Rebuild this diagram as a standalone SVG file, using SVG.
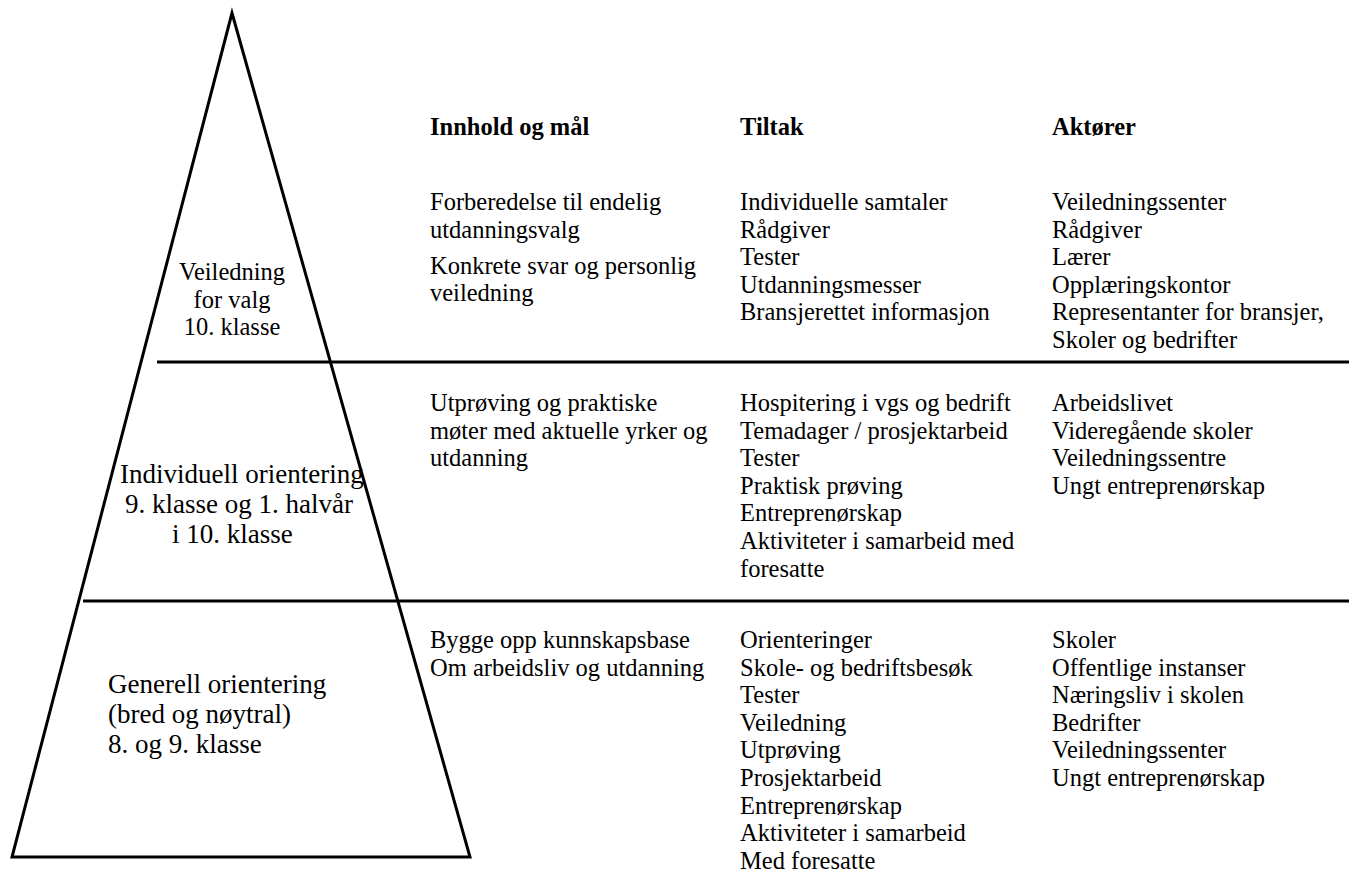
<svg xmlns="http://www.w3.org/2000/svg" width="1353" height="877" viewBox="0 0 1353 877">
<style>
text{font-family:"Liberation Serif","Times New Roman",serif;font-size:24.5px;fill:#000}
.h{font-weight:bold}
.c{text-anchor:middle}
.big{font-size:27px}
.ln{stroke:#000;stroke-width:3;fill:none}
</style>
<rect width="1353" height="877" fill="#fff"/>
<g id="connectors">
<polygon class="ln" points="232,13 12,857 470,857" stroke-linejoin="miter"/>
<line class="ln" x1="157" y1="362" x2="1349" y2="362"/>
<line class="ln" x1="83" y1="601" x2="1349" y2="601"/>
</g>
<g id="headers">
<text class="h" x="430" y="135">Innhold og mål</text>
<text class="h" x="740" y="135">Tiltak</text>
<text class="h" x="1052" y="135">Aktører</text>
</g>
<g id="level1">
<text class="c" x="232" y="280">Veiledning</text>
<text class="c" x="232" y="307.6">for valg</text>
<text class="c" x="232" y="335.2">10. klasse</text>
<text x="430" y="210">Forberedelse til endelig</text>
<text x="430" y="237.6">utdanningsvalg</text>
<text x="430" y="273.6">Konkrete svar og personlig</text>
<text x="430" y="301.2">veiledning</text>
<text x="740" y="210">Individuelle samtaler</text>
<text x="740" y="237.6">Rådgiver</text>
<text x="740" y="265.2">Tester</text>
<text x="740" y="292.8">Utdanningsmesser</text>
<text x="740" y="320.4">Bransjerettet informasjon</text>
<text x="1052" y="210">Veiledningssenter</text>
<text x="1052" y="237.6">Rådgiver</text>
<text x="1052" y="265.2">Lærer</text>
<text x="1052" y="292.8">Opplæringskontor</text>
<text x="1052" y="320.4">Representanter for bransjer,</text>
<text x="1052" y="348">Skoler og bedrifter</text>
</g>
<g id="level2">
<text class="big" x="120" y="483">Individuell orientering</text>
<text class="big" x="125" y="513">9. klasse og 1. halvår</text>
<text class="big" x="172" y="543">i 10. klasse</text>
<text x="430" y="411">Utprøving og praktiske</text>
<text x="430" y="438.6">møter med aktuelle yrker og</text>
<text x="430" y="466.2">utdanning</text>
<text x="740" y="411">Hospitering i vgs og bedrift</text>
<text x="740" y="438.6">Temadager / prosjektarbeid</text>
<text x="740" y="466.2">Tester</text>
<text x="740" y="493.8">Praktisk prøving</text>
<text x="740" y="521.4">Entreprenørskap</text>
<text x="740" y="549">Aktiviteter i samarbeid med</text>
<text x="740" y="576.6">foresatte</text>
<text x="1052" y="411">Arbeidslivet</text>
<text x="1052" y="438.6">Videregående skoler</text>
<text x="1052" y="466.2">Veiledningssentre</text>
<text x="1052" y="493.8">Ungt entreprenørskap</text>
</g>
<g id="level3">
<text class="big" x="108" y="692.5">Generell orientering</text>
<text class="big" x="108" y="722.5">(bred og nøytral)</text>
<text class="big" x="108" y="752.5">8. og 9. klasse</text>
<text x="430" y="648">Bygge opp kunnskapsbase</text>
<text x="430" y="675.6">Om arbeidsliv og utdanning</text>
<text x="740" y="648">Orienteringer</text>
<text x="740" y="675.6">Skole- og bedriftsbesøk</text>
<text x="740" y="703.2">Tester</text>
<text x="740" y="730.8">Veiledning</text>
<text x="740" y="758.4">Utprøving</text>
<text x="740" y="786">Prosjektarbeid</text>
<text x="740" y="813.6">Entreprenørskap</text>
<text x="740" y="841.2">Aktiviteter i samarbeid</text>
<text x="740" y="868.8">Med foresatte</text>
<text x="1052" y="648">Skoler</text>
<text x="1052" y="675.6">Offentlige instanser</text>
<text x="1052" y="703.2">Næringsliv i skolen</text>
<text x="1052" y="730.8">Bedrifter</text>
<text x="1052" y="758.4">Veiledningssenter</text>
<text x="1052" y="786">Ungt entreprenørskap</text>
</g>
</svg>
